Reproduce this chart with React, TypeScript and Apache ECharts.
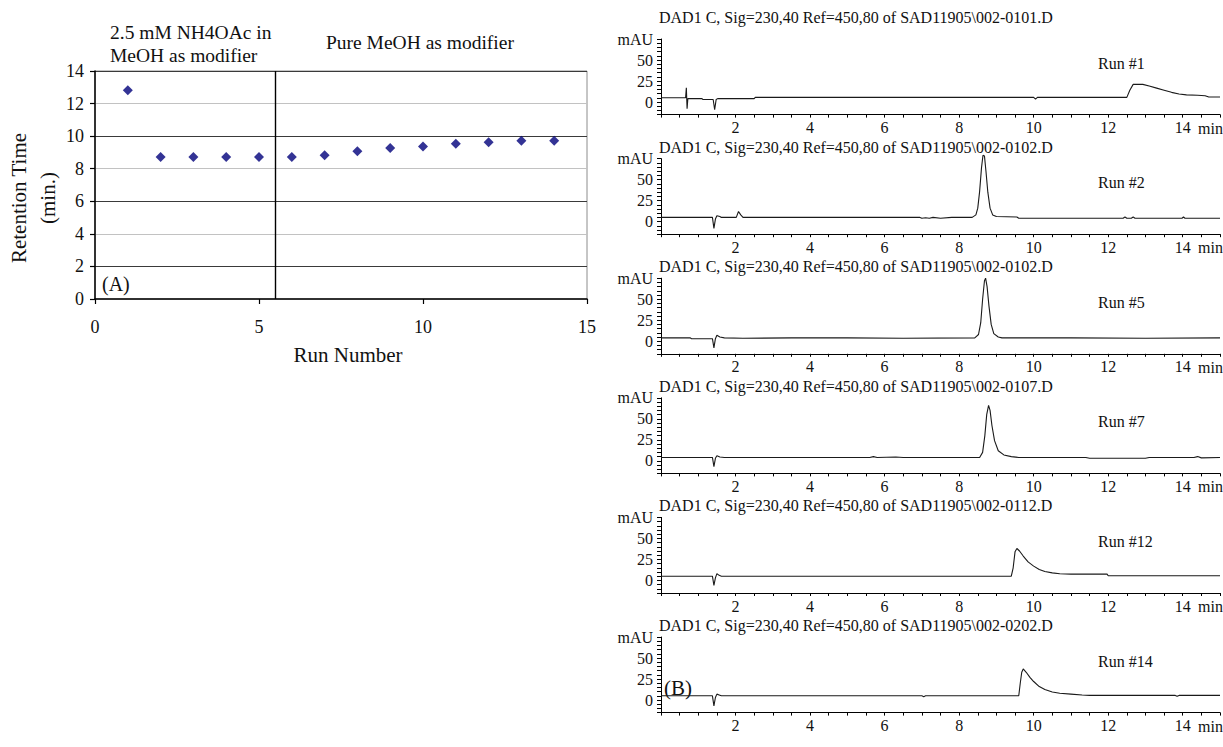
import React, { useEffect, useRef } from "react";
import * as echarts from "echarts";

// ---------- Panel A data ----------
const runNumbers = [1, 2, 3, 4, 5, 6, 7, 8, 9, 10, 11, 12, 13, 14];
const retentionTimes = [12.82, 8.72, 8.72, 8.72, 8.72, 8.72, 8.82, 9.07, 9.27, 9.36, 9.54, 9.62, 9.72, 9.72];
const modifierSwitchRun = 5.5;
const xTicksA = [0, 5, 10, 15];
const yTicksA = [0, 2, 4, 6, 8, 10, 12, 14];

// ---------- Panel B data (time [min], mAU) ----------
const chromTitles = [
  "DAD1 C, Sig=230,40 Ref=450,80 of SAD11905\\002-0101.D",
  "DAD1 C, Sig=230,40 Ref=450,80 of SAD11905\\002-0102.D",
  "DAD1 C, Sig=230,40 Ref=450,80 of SAD11905\\002-0102.D",
  "DAD1 C, Sig=230,40 Ref=450,80 of SAD11905\\002-0107.D",
  "DAD1 C, Sig=230,40 Ref=450,80 of SAD11905\\002-0112.D",
  "DAD1 C, Sig=230,40 Ref=450,80 of SAD11905\\002-0202.D",
];
const runLabels = ["Run #1", "Run #2", "Run #5", "Run #7", "Run #12", "Run #14"];

const run1 = [
  [0, 5], [0.66, 5], [0.68, 17], [0.7, -8], [0.72, 4], [1.1, 4], [1.12, 3], [1.4, 3], [1.44, -9], [1.48, 3],
  [1.52, 4], [2.5, 4], [2.53, 5.5], [10.0, 5.5], [10.05, 3.5], [10.1, 5.5], [12.5, 5.5], [12.58, 14], [12.67, 21],
  [12.93, 21], [13.1, 19], [13.3, 16.5], [13.5, 14], [13.7, 11.5], [13.9, 9.5], [14.1, 8.5], [14.4, 8], [14.6, 7.5],
  [14.7, 6], [15, 6],
];
const run2 = [
  [0, 5], [1.38, 5], [1.42, -8], [1.46, 3], [1.5, 7], [1.58, 6], [1.62, 5], [2.02, 5], [2.08, 12], [2.14, 8],
  [2.2, 5], [6.95, 5], [7.0, 4], [7.1, 4.5], [7.2, 4], [7.3, 5], [7.5, 4], [7.8, 5], [8.35, 5], [8.45, 8],
  [8.5, 16], [8.55, 36], [8.6, 64], [8.64, 79], [8.68, 78], [8.72, 60], [8.77, 35], [8.83, 16], [8.9, 8],
  [9.0, 6], [9.55, 5.5], [9.6, 4], [12.4, 4], [12.45, 5.5], [12.5, 4], [12.62, 4], [12.67, 5.5], [12.72, 4],
  [13.98, 4], [14.02, 5.5], [14.06, 4], [15, 4],
];
const run5 = [
  [0, 4], [0.78, 4], [0.82, 3], [1.38, 3], [1.42, -8], [1.46, 3], [1.5, 7], [1.58, 5], [1.7, 4], [2.2, 3.5],
  [3.5, 4], [5.0, 4], [6.5, 3.5], [8.42, 4], [8.52, 8], [8.58, 22], [8.63, 50], [8.68, 72], [8.71, 75],
  [8.75, 65], [8.8, 42], [8.86, 20], [8.93, 9], [9.05, 5], [9.15, 4], [11.0, 4], [13.0, 3.5], [15, 4],
];
const run7 = [
  [0, 4], [1.38, 4], [1.42, -7], [1.46, 3], [1.5, 6], [1.58, 4.5], [1.7, 4], [5.6, 4], [5.7, 5], [5.8, 4],
  [6.3, 4.5], [6.5, 4], [8.55, 4], [8.63, 10], [8.69, 30], [8.74, 55], [8.79, 66], [8.83, 60], [8.88, 42],
  [8.95, 24], [9.05, 12], [9.2, 7], [9.4, 5], [9.6, 4], [11.4, 4], [11.5, 3], [13.0, 3], [13.1, 4],
  [14.3, 4], [14.4, 5], [14.5, 3.5], [15, 4],
];
const run12 = [
  [0, 5], [1.38, 5], [1.42, -6], [1.46, 3], [1.5, 8], [1.56, 6], [1.62, 5], [9.4, 5], [9.45, 15], [9.5, 34],
  [9.55, 38], [9.62, 35], [9.72, 29], [9.85, 22], [10.0, 17], [10.15, 13], [10.3, 10.5], [10.5, 9],
  [10.7, 8], [11.0, 7.5], [11.97, 7.5], [12.0, 5.5], [15, 5.5],
];
const run14 = [
  [0, 5], [1.38, 5], [1.42, -7], [1.46, 3], [1.5, 7], [1.56, 6], [1.62, 5], [7.0, 5], [7.05, 4], [7.1, 5],
  [9.6, 5], [9.64, 20], [9.68, 33], [9.72, 37], [9.8, 33], [9.9, 27], [10.0, 22], [10.15, 16], [10.3, 12.5],
  [10.5, 9.5], [10.7, 8], [11.0, 7], [11.3, 6], [11.5, 5.5], [13.8, 5.5], [13.85, 4.5], [13.9, 5.5], [15, 5.5],
];
const chromatograms = [run1, run2, run5, run7, run12, run14];
const chromXTickLabels = [2, 4, 6, 8, 10, 12, 14];
const chromYTickLabels = [0, 25, 50];
const chromXUnit = "min";
const chromYUnit = "mAU";

const SERIF = "'Liberation Serif', 'Times New Roman', serif";
const INK = "#111";

export default function App() {
  const ref = useRef<HTMLDivElement>(null);

  useEffect(() => {
    if (!ref.current) return;
    const chart = echarts.init(ref.current, undefined, { renderer: "svg" });

    const grids: any[] = [];
    const xAxes: any[] = [];
    const yAxes: any[] = [];
    const series: any[] = [];
    const graphics: any[] = [];

    // ---- Panel A ----
    grids.push({ left: 95, top: 71, width: 492, height: 228, show: true, borderColor: "#8c8c8c", borderWidth: 1, backgroundColor: "transparent" });
    xAxes.push({
      type: "value", gridIndex: 0, min: 0, max: 15, interval: 5,
      axisLine: { show: true, onZero: false, lineStyle: { color: "#000", width: 1.5 } },
      axisTick: { show: true, length: 5, lineStyle: { color: "#000", width: 1.2 } },
      axisLabel: {
        color: INK, fontFamily: SERIF, fontSize: 18, margin: 19, showMinLabel: true, showMaxLabel: true,
        formatter: (v: number) => (xTicksA.includes(v) ? String(v) : ""),
      },
      splitLine: { show: false },
    });
    yAxes.push({
      type: "value", gridIndex: 0, min: 0, max: 14, interval: 2,
      axisLine: { show: true, onZero: false, lineStyle: { color: "#000", width: 1.5 } },
      axisTick: { show: true, length: 5, lineStyle: { color: "#000", width: 1.2 } },
      axisLabel: {
        color: INK, fontFamily: SERIF, fontSize: 18, margin: 11, showMinLabel: true, showMaxLabel: true,
        formatter: (v: number) => (yTicksA.includes(v) ? String(v) : ""),
      },
      splitLine: { show: true, lineStyle: { color: ["#c2c2c2", "#3a3a3a"], width: 1 } },
    });
    series.push({
      type: "scatter", xAxisIndex: 0, yAxisIndex: 0,
      data: runNumbers.map((r, i) => [r, retentionTimes[i]]),
      symbol: "diamond", symbolSize: 10,
      itemStyle: { color: "#00007a" },
      markLine: {
        silent: true, symbol: "none", label: { show: false },
        lineStyle: { color: "#000", width: 1.4, type: "solid" },
        data: [{ xAxis: modifierSwitchRun }],
      },
    });

    // ---- Panel B: six chromatograms ----
    const step = 119.6;
    chromatograms.forEach((trace, k) => {
      const gi = k + 1;
      const top = 39 + step * k;
      grids.push({ left: 661, top, width: 562, height: 75.6 });
      xAxes.push({
        type: "value", gridIndex: gi, min: 0, max: 15, interval: 0.5,
        axisLine: { show: true, onZero: false, lineStyle: { color: "#000", width: 1 } },
        axisTick: { show: true, length: 3, interval: 0, lineStyle: { color: "#000" } },
        axisLabel: {
          color: INK, fontFamily: SERIF, fontSize: 16, margin: 5, interval: 0,
          showMinLabel: true, showMaxLabel: true,
          formatter: (v: number) => (chromXTickLabels.includes(v) ? String(v) : ""),
        },
        splitLine: { show: false },
      });
      yAxes.push({
        type: "value", gridIndex: gi, min: -15, max: 75, interval: 5,
        axisLine: { show: true, onZero: false, lineStyle: { color: "#000", width: 1 } },
        axisTick: { show: true, length: 4, interval: 0, lineStyle: { color: "#000" } },
        axisLabel: {
          color: INK, fontFamily: SERIF, fontSize: 16, margin: 8, interval: 0,
          showMinLabel: true, showMaxLabel: true,
          formatter: (v: number) => (chromYTickLabels.includes(v) ? String(v) : v === 75 ? chromYUnit : ""),
        },
        splitLine: { show: false },
      });
      series.push({
        type: "line", xAxisIndex: gi, yAxisIndex: gi, data: trace,
        showSymbol: false, symbol: "none", clip: false,
        lineStyle: { color: "#1a1a1a", width: 1.1 },
      });
      graphics.push({
        type: "text", x: 659, y: k === 0 ? 17 : 27.4 + step * k,
        style: { text: chromTitles[k], font: `16px ${SERIF}`, fill: INK, verticalAlign: "middle", textVerticalAlign: "middle" },
      });
      graphics.push({
        type: "text", x: 1098, y: 63 + step * k,
        style: { text: runLabels[k], font: `16px ${SERIF}`, fill: INK, verticalAlign: "middle", textVerticalAlign: "middle" },
      });
      graphics.push({
        type: "text", x: 1198, y: 128 + step * k,
        style: { text: chromXUnit, font: `16px ${SERIF}`, fill: INK, verticalAlign: "middle", textVerticalAlign: "middle" },
      });
    });

    // ---- Annotations ----
    const txt = (text: string, x: number, y: number, size: number, align = "left") => ({
      type: "text", x, y,
      style: {
        text, font: `${size}px ${SERIF}`, fill: INK,
        align, textAlign: align, verticalAlign: "middle", textVerticalAlign: "middle",
      },
    });
    graphics.push(txt("2.5 mM NH4OAc in", 110, 32, 19.5));
    graphics.push(txt("MeOH as modifier", 110, 55, 19.5));
    graphics.push(txt("Pure MeOH as modifier", 326, 42, 19.5));
    graphics.push(txt("(A)", 102, 284, 20));
    graphics.push(txt("Run Number", 348, 355, 21, "center"));
    graphics.push({
      type: "text", x: 33, y: 198, rotation: Math.PI / 2,
      style: {
        text: "Retention Time\n(min.)", font: `21px ${SERIF}`, fill: INK, lineHeight: 29,
        align: "center", textAlign: "center", verticalAlign: "middle", textVerticalAlign: "middle",
      },
    });
    graphics.push(txt("(B)", 664, 688, 21));

    chart.setOption({
      animation: false,
      backgroundColor: "#fff",
      grid: grids,
      xAxis: xAxes,
      yAxis: yAxes,
      series,
      graphic: { elements: graphics },
    });

    return () => chart.dispose();
  }, []);

  return <div ref={ref} style={{ position: "absolute", left: 0, top: 0, width: 1223, height: 747 }} />;
}
